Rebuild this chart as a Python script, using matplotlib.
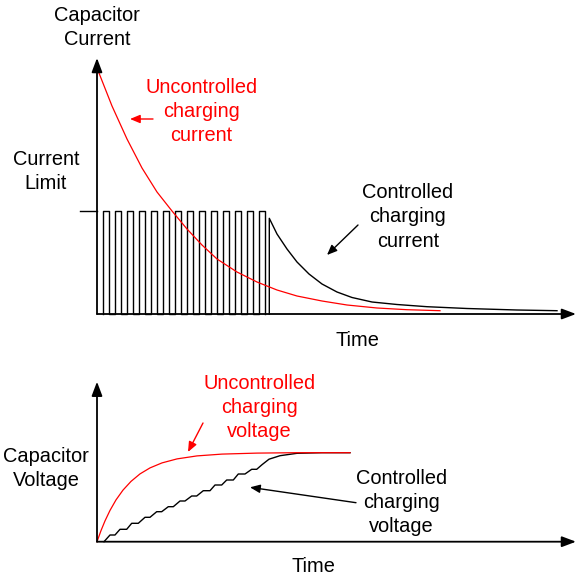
import matplotlib
matplotlib.use("Agg")
import matplotlib.pyplot as plt

plt.rcParams['font.family'] = ['Liberation Sans', 'DejaVu Sans']
FS = 14.4
LS = 1.34

# ---- top panel: capacitor current (time units 0..479, current units 0..256)
current_limit = 103.4
pulse_left = [5.7, 17.7, 29.7, 41.7, 53.7, 65.7, 77.7, 89.7,
              101.7, 113.7, 125.7, 137.7, 149.7, 161.7]
pulse_width = 6.7

unctrl_i_t = [0, 15, 30, 45, 60, 75, 90, 105, 120, 140, 160, 180,
              200, 225, 250, 280, 310, 343]
unctrl_i = [246, 208, 175, 146, 122, 103, 85, 69, 55, 42, 32, 24,
            18, 13, 9, 6, 4.3, 3.3]

ctrl_i_t = [172.3, 172.3, 180, 190, 200, 212, 225, 240, 255, 275,
            300, 330, 370, 420, 460]
ctrl_i = [0, 95.7, 80, 65, 52, 40, 30, 22, 16.5, 12,
          9.5, 7.3, 5.5, 4, 3.3]

# ---- bottom panel: capacitor voltage (time units 0..479, voltage units 0..160)
unctrl_v_t = [0, 4, 8, 13, 19, 26, 34, 43, 53, 65, 80, 100, 125, 160, 200, 253]
unctrl_v = [0, 11.1, 20.8, 31.3, 41.8, 51.6, 60.3, 67.8, 73.8, 78.8,
            82.8, 85.8, 87.6, 88.6, 89, 89]

ctrl_v_t = [7, 13, 18, 23, 29.7, 34.7, 41.3, 48, 53, 59.7, 64.7, 71.3, 76.3,
            83, 88, 94.7, 99.7, 106.3, 113, 118, 124.7, 129.7, 136.3,
            141.3, 148, 154.7, 159.7, 165, 172, 183, 200, 225, 253]
ctrl_v = [0, 6.7, 6.7, 12.4, 12.4, 18.4, 18.4, 24.4, 24.4, 30, 30, 35, 35,
          40.7, 40.7, 45.7, 45.7, 51, 51, 56.7, 56.7, 61.7, 61.7,
          67.7, 67.7, 72.4, 72.4, 77, 82.5, 86, 88.4, 89, 89]

RED = '#ff0000'

fig = plt.figure(figsize=(5.8, 5.78), dpi=100)
ax1 = fig.add_axes([97 / 580, 264 / 578, 479 / 580, 256 / 578])
ax1.set_xlim(0, 479)
ax1.set_ylim(0, 256)
ax2 = fig.add_axes([97 / 580, 36.3 / 578, 479 / 580, 160 / 578])
ax2.set_xlim(0, 479)
ax2.set_ylim(0, 160)


def axis_arrows(ax, xmax, ymax):
    ap = dict(arrowstyle='-|>,head_length=0.85,head_width=0.32',
              lw=1.3, color='k', shrinkA=0, shrinkB=0)
    ax.annotate('', xy=(0, ymax), xytext=(0, 0), arrowprops=ap,
                annotation_clip=False)
    ax.annotate('', xy=(xmax, 0), xytext=(0, 0), arrowprops=ap,
                annotation_clip=False)


def pointer(ax, tail, head, color):
    ax.annotate('', xy=head, xytext=tail, annotation_clip=False,
                arrowprops=dict(arrowstyle='-|>,head_length=0.6,head_width=0.25',
                                lw=1.0, color=color, shrinkA=0, shrinkB=0))


for ax in (ax1, ax2):
    ax.axis('off')

# pulse train
px, py = [], []
for left in pulse_left:
    px += [left, left, left + pulse_width, left + pulse_width]
    py += [0, current_limit, current_limit, 0]
ax1.plot(px, py, color='k', lw=1.0, clip_on=False)
ax1.plot(ctrl_i_t, ctrl_i, color='k', lw=1.0, clip_on=False)
ax1.plot(unctrl_i_t, unctrl_i, color=RED, lw=0.9, clip_on=False)
ax1.plot([-17, 0], [current_limit, current_limit], color='k', lw=1.0,
         clip_on=False)
axis_arrows(ax1, 479, 256)

pointer(ax1, (56, 195), (33, 195), RED)
pointer(ax1, (261, 89), (230, 59), 'k')

ax1.text(0, 286.3, 'Capacitor\nCurrent', ha='center', va='center',
         fontsize=FS, linespacing=LS)
ax1.text(-51, 142.7, 'Current\nLimit', ha='center', va='center',
         fontsize=FS, linespacing=LS)
ax1.text(104.5, 202.5, 'Uncontrolled\ncharging\ncurrent', ha='center',
         va='center', fontsize=FS, color=RED, linespacing=LS)
ax1.text(311, 97, 'Controlled\ncharging\ncurrent', ha='center',
         va='center', fontsize=FS, linespacing=LS)
ax1.text(260, -26, 'Time', ha='center', va='center', fontsize=FS)

ax2.plot(ctrl_v_t, ctrl_v, color='k', lw=1.0, clip_on=False)
ax2.plot(unctrl_v_t, unctrl_v, color=RED, lw=0.9, clip_on=False)
axis_arrows(ax2, 479, 160)

pointer(ax2, (106, 118.7), (91, 89.7), RED)
pointer(ax2, (259, 39), (153, 54.4), 'k')

ax2.text(162.5, 134.4, 'Uncontrolled\ncharging\nvoltage', ha='center',
         va='center', fontsize=FS, color=RED, linespacing=LS)
ax2.text(-51, 73.4, 'Capacitor\nVoltage', ha='center', va='center',
         fontsize=FS, linespacing=LS)
ax2.text(304.7, 39.4, 'Controlled\ncharging\nvoltage', ha='center',
         va='center', fontsize=FS, linespacing=LS)
ax2.text(216, -25.3, 'Time', ha='center', va='center', fontsize=FS)

fig.savefig('out.png', dpi=100, facecolor='white')
